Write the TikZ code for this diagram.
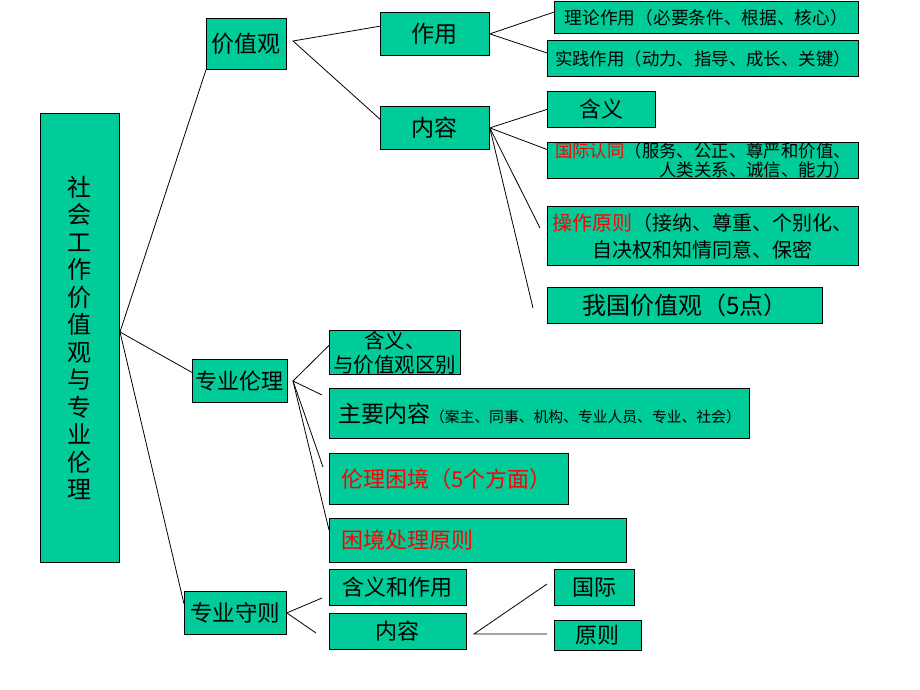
\documentclass[tikz,border=0pt]{standalone}
\usepackage{fontspec}
\setmainfont{Noto Sans CJK SC}
\definecolor{ppt teal}{RGB}{0,204,153}

\tikzstyle{box}=[draw=black, line width=0.8pt, fill=ppt teal, anchor=north west, inner sep=0pt, align=center]
\tikzstyle{leftbox}=[box, inner xsep=12pt, align=left]
\tikzstyle{link}=[black, line width=0.8pt]
\newcommand{\sz}[2]{\fontsize{#1}{#2}\selectfont}
\newcommand{\hot}[1]{{\color{red}#1}}

\begin{document}
\begin{tikzpicture}[x=1pt, y=-1pt]
	\useasboundingbox (0,0) rectangle (920,690);

	% root and first level
	\node[box, minimum width=79pt, minimum height=449pt, font=\sz{24}{27.5}] (root) at (40,113)
		{社\\会\\工\\作\\价\\值\\观\\与\\专\\业\\伦\\理};
	\node[box, minimum width=80pt, minimum height=51pt, font=\sz{23}{26}] (jzg) at (206,18) {价值观};
	\node[box, minimum width=95pt, minimum height=43pt, font=\sz{22}{26}] (zyll) at (192,359) {专业伦理};
	\node[box, minimum width=102pt, minimum height=43pt, font=\sz{22.5}{26}] (zysz) at (184,591) {专业守则};

	% 价值观
	\node[box, minimum width=109pt, minimum height=43pt, font=\sz{23}{26}] (zuoyong) at (380,12) {作用};
	\node[box, minimum width=109pt, minimum height=43pt, font=\sz{23}{26}] (neirong) at (380,106) {内容};
	\node[box, minimum width=304pt, minimum height=32pt, font=\sz{17.7}{22}] (llzy) at (554,1) {理论作用（必要条件、根据、核心）};
	\node[box, minimum width=311pt, minimum height=36pt, font=\sz{17.4}{22}] (sjzy) at (547,40) {实践作用（动力、指导、成长、关键）};
	\node[box, minimum width=108pt, minimum height=36pt, font=\sz{22}{26}] (hanyi) at (547,91) {含义};
	\node[box, minimum width=311pt, minimum height=36pt, font=\sz{17.4}{19}, align=right] (gjrt) at (547,142)
		{\hot{国际认同}（服务、公正、尊严和价值、\\人类关系、诚信、能力）};
	\node[box, minimum width=311pt, minimum height=59pt, font=\sz{20}{27}] (czyz) at (547,206)
		{\hot{操作原则}（接纳、尊重、个别化、\\自决权和知情同意、保密};
	\node[box, minimum width=275pt, minimum height=36pt, font=\sz{24}{26}] (wgjzg) at (547,287) {我国价值观（5点）};

	% 专业伦理
	\node[box, minimum width=131pt, minimum height=44pt, font=\sz{20.5}{24}] (hyqb) at (329,330) {含义、\\与价值观区别};
	\node[box, minimum width=420pt, minimum height=50pt, font=\sz{23}{26}] (zynr) at (329,388)
		{主要内容{\sz{14.8}{18}（案主、同事、机构、专业人员、专业、社会）}};
	\node[leftbox, text width=215pt, minimum height=51pt, font=\sz{22}{26}] (lljj) at (329,453) {\hot{伦理困境（5个方面）}};
	\node[leftbox, text width=273pt, minimum height=44pt, font=\sz{22}{26}] (kjcl) at (329,518) {\hot{困境处理原则}};

	% 专业守则
	\node[box, minimum width=137pt, minimum height=36pt, font=\sz{22}{26}] (hyzy) at (329,569) {含义和作用};
	\node[box, minimum width=137pt, minimum height=36pt, font=\sz{22}{26}] (nr) at (329,613) {内容};
	\node[box, minimum width=80pt, minimum height=36pt, font=\sz{22}{26}] (guoji) at (554,569) {国际};
	\node[box, minimum width=87pt, minimum height=30pt, font=\sz{22}{26}] (yuanze) at (554,620) {原则};

	% junctions and loose ends
	\coordinate (rootj) at (120,332);
	\coordinate (jzgj) at (293,41);
	\coordinate (zyllj) at (293,381);
	\coordinate (nrj) at (474,634);
	\coordinate (czyzend) at (540,228);
	\coordinate (wgjzgend) at (533,308);
	\coordinate (zynrend) at (322,395);
	\coordinate (lljjend) at (323,467);
	\coordinate (hyzyend) at (322,598);
	\coordinate (nrend) at (316,633);
	\coordinate (guojiend) at (547,584);
	\coordinate (yuanzeend) at (547,634);

	\draw[link] (jzg.south west) -- (rootj) -- (zyll.170);
	\draw[link] (rootj) -- (zysz.170);

	\draw[link] (zuoyong.172) -- (jzgj) -- (neirong.171);
	\draw[link] (llzy.178) -- (zuoyong.east) -- (sjzy.178);
	\draw[link] (neirong.east) -- (hanyi.west);
	\draw[link] (neirong.east) -- (gjrt.176);
	\draw[link] (neirong.east) -- (czyzend);
	\draw[link] (neirong.east) -- (wgjzgend);

	\draw[link] (hyqb.174) -- (zyllj) -- (zynrend);
	\draw[link] (zyllj) -- (lljjend);
	\draw[link] (zyllj) -- (kjcl.176);

	\draw[link] (hyzyend) -- (zysz.east) -- (nrend);
	\draw[link] (guojiend) -- (nrj) -- (yuanzeend);
\end{tikzpicture}
\end{document}
